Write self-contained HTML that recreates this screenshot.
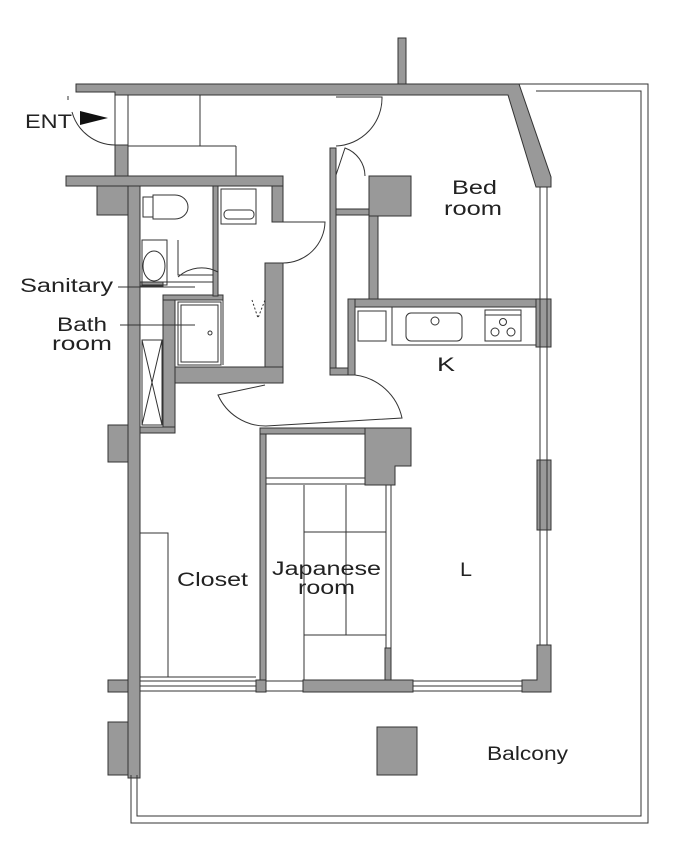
<!DOCTYPE html>
<html><head><meta charset="utf-8"><style>
html,body{margin:0;padding:0;background:#fff}
svg{display:block}
text{font-family:"Liberation Sans",sans-serif;font-size:19px;fill:#222}
</style></head><body>
<svg width="680" height="841" viewBox="0 0 680 841" xmlns="http://www.w3.org/2000/svg">
<g fill="#999" stroke="#333" stroke-width="1">
<polygon points="76,84 519,84 551,177 551,187 536,187 508,95 115,95 115,92 76,92"/>
<rect x="398" y="38" width="8" height="46"/>
<rect x="115" y="145" width="13" height="31"/>
<rect x="66" y="176" width="217" height="10"/>
<rect x="97" y="186" width="31" height="29"/>
<rect x="128" y="186" width="12" height="592"/>
<rect x="108" y="425" width="20" height="37"/>
<rect x="108" y="680" width="20" height="12"/>
<rect x="108" y="722" width="20" height="53"/>
<rect x="272" y="186" width="11" height="36"/>
<rect x="265" y="263" width="18" height="120"/>
<rect x="175" y="367" width="108" height="16"/>
<rect x="163" y="295" width="12" height="137"/>
<rect x="140" y="427" width="35" height="6"/>
<rect x="163" y="295" width="60" height="5"/>
<rect x="213" y="186" width="5" height="110"/>
<rect x="140" y="282" width="23" height="4"/>
<rect x="330" y="148" width="6" height="227"/>
<rect x="330" y="368" width="25" height="7"/>
<rect x="369" y="176" width="42" height="40"/>
<rect x="336" y="209" width="33" height="6"/>
<rect x="369" y="216" width="9" height="84"/>
<rect x="348" y="299" width="203" height="8"/>
<rect x="348" y="299" width="7" height="76"/>
<rect x="536" y="299" width="15" height="48"/>
<rect x="537" y="460" width="14" height="70"/>
<polygon points="537,645 551,645 551,692 522,692 522,680 537,680"/>
<rect x="260" y="428" width="6" height="262"/>
<rect x="260" y="428" width="105" height="6"/>
<polygon points="365,428 411,428 411,466 395,466 395,485 365,485"/>
<rect x="385" y="648" width="6" height="33"/>
<rect x="303" y="680" width="110" height="12"/>
<rect x="256" y="680" width="10" height="12"/>
<rect x="377" y="727" width="40" height="48"/>
</g>
<g fill="none" stroke="#333" stroke-width="1">
<polyline points="519,84 648,84 648,823 131,823 131,775"/>
<polyline points="536,91 641,91 641,816 137,816 137,775"/>
<line x1="540" y1="187" x2="540" y2="645"/><line x1="547" y1="187" x2="547" y2="645"/>
<rect x="140" y="681" width="116" height="10"/><line x1="140" y1="686" x2="256" y2="686"/>
<rect x="266" y="681" width="37" height="10"/>
<rect x="413" y="681" width="109" height="10"/><line x1="413" y1="686" x2="522" y2="686"/>
<polyline points="140,533 168,533 168,677"/><line x1="140" y1="677" x2="256" y2="677"/>
<line x1="266" y1="478" x2="365" y2="478"/><line x1="266" y1="484" x2="365" y2="484"/>
<line x1="304" y1="485" x2="304" y2="680"/><line x1="346" y1="485" x2="346" y2="635"/>
<line x1="304" y1="532" x2="386" y2="532"/><line x1="304" y1="635" x2="386" y2="635"/>
<line x1="386" y1="485" x2="386" y2="648"/><line x1="391" y1="485" x2="391" y2="648"/>
<line x1="115" y1="92" x2="115" y2="145"/>
<line x1="128" y1="95" x2="128" y2="146"/><line x1="128" y1="146" x2="236" y2="146"/>
<line x1="236" y1="146" x2="236" y2="176"/><line x1="200" y1="95" x2="200" y2="146"/>
<path d="M68,96 L68,100 M115,145 A45,45 0 0 1 72,112"/>
<path d="M336,97 L382,97 A48,48 0 0 1 336,146"/>
<path d="M336,175 L345,148 A30,30 0 0 1 365,176"/>
<path d="M283,222 L325,222 A42,42 0 0 1 283,263"/>
<path d="M218,272 A35,35 0 0 0 178,277"/>
<path d="M178,240 L178,275 L213,275"/>
<path d="M355,375 A55,55 0 0 1 402,418 L266,426 A52,52 0 0 1 218,395 L265,385"/>
<rect x="140" y="186" width="73" height="96"/>
<rect x="143" y="197" width="10" height="20"/><path d="M153,195 L175,195 A13,12 0 0 1 175,219 L153,219 Z"/>
<rect x="221" y="189" width="35" height="35"/><rect x="224" y="210" width="30" height="9" rx="4"/>
<rect x="142" y="240" width="25" height="45"/><ellipse cx="154" cy="266" rx="11" ry="15"/>
<line x1="118" y1="287" x2="195" y2="287"/>
<line x1="120" y1="325" x2="195" y2="325"/>
<rect x="178" y="302" width="43" height="63"/><rect x="181" y="305" width="37" height="57"/>
<circle cx="210" cy="333" r="2"/>
<line x1="223" y1="300" x2="223" y2="365"/>
<path d="M252,300 L258,318 L265,300" stroke-dasharray="2,2"/>
<rect x="142" y="340" width="20" height="85"/><path d="M142,340 L162,425 M162,340 L142,425"/>
<rect x="358" y="311" width="28" height="30"/>
<rect x="392" y="307" width="144" height="38"/>
<rect x="406" y="313" width="56" height="28" rx="5"/><circle cx="435" cy="321" r="4"/>
<rect x="485" y="310" width="36" height="31"/><line x1="485" y1="315" x2="521" y2="315"/>
<circle cx="503" cy="322" r="3.5"/><circle cx="495" cy="332" r="4"/><circle cx="511" cy="332" r="4"/>
</g>
<polygon points="80,111 108,118 80,125" fill="#111"/>
<text x="25" y="128" textLength="47" lengthAdjust="spacingAndGlyphs">ENT</text>
<text x="452" y="194" textLength="45" lengthAdjust="spacingAndGlyphs">Bed</text>
<text x="444" y="215" textLength="58" lengthAdjust="spacingAndGlyphs">room</text>
<text x="20" y="292" textLength="93" lengthAdjust="spacingAndGlyphs">Sanitary</text>
<text x="57" y="331" textLength="50" lengthAdjust="spacingAndGlyphs">Bath</text>
<text x="52" y="350" textLength="60" lengthAdjust="spacingAndGlyphs">room</text>
<text x="437" y="371" textLength="18" lengthAdjust="spacingAndGlyphs">K</text>
<text x="177" y="586" textLength="71" lengthAdjust="spacingAndGlyphs">Closet</text>
<text x="272" y="575" textLength="109" lengthAdjust="spacingAndGlyphs">Japanese</text>
<text x="298" y="594" textLength="57" lengthAdjust="spacingAndGlyphs">room</text>
<text x="460" y="576" textLength="12" lengthAdjust="spacingAndGlyphs">L</text>
<text x="487" y="760" textLength="81" lengthAdjust="spacingAndGlyphs">Balcony</text>
</svg>
</body></html>
